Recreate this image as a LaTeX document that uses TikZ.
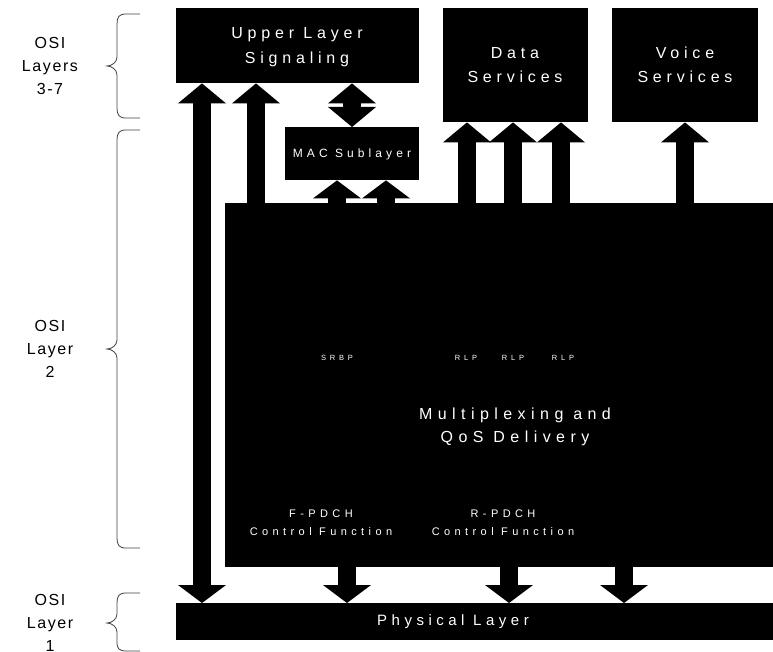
\documentclass[tikz,border=0pt]{standalone}
\usepackage{fontspec}
\setmainfont{Liberation Sans}
\newfontfamily\ftitle{Liberation Sans}[LetterSpace=30]
\newfontfamily\fmid{Liberation Sans}[LetterSpace=34]
\newfontfamily\fsmall{Liberation Sans}[LetterSpace=40]
\newfontfamily\ftiny{Liberation Sans}[LetterSpace=50]
\newfontfamily\fosi{Liberation Sans}[LetterSpace=10]
\usetikzlibrary{arrows.meta}
\begin{document}
\begin{tikzpicture}[x=1pt,y=-1pt,
  blk/.style={fill=black, draw=none, inner sep=0pt, anchor=north west},
  wtxt/.style={text=white, align=center, inner sep=0pt},
  titletxt/.style={wtxt, font=\ftitle\fontsize{16}{25}\selectfont},
  osilbl/.style={align=center, inner sep=0pt, font=\fosi\fontsize{16}{23}\selectfont},
  bar/.style={line width=18pt, draw=black},
  upa/.style={bar, -{Triangle[width=48pt,length=20pt,line width=0pt]}},
  upb/.style={bar, -{Triangle[width=48pt,length=18pt,line width=0pt]}},
  dbl/.style={bar, {Triangle[width=48pt,length=20pt,line width=0pt]}-{Triangle[width=48pt,length=20pt,line width=0pt]}},
  bracepath/.style={draw=black!75, line width=0.8pt},
]
\useasboundingbox (0,0) rectangle (773,652);

% boxes
\node[blk, minimum width=243pt, minimum height=75pt] (upper) at (176,8) {};
\node[blk, minimum width=145pt, minimum height=114pt] (data) at (443,8) {};
\node[blk, minimum width=146pt, minimum height=114pt] (voice) at (612,8) {};
\node[blk, minimum width=134pt, minimum height=53pt] (mac) at (285,127) {};
\node[blk, minimum width=548pt, minimum height=364pt] (big) at (225,203) {};
\node[blk, minimum width=597pt, minimum height=37pt] (phys) at (176,603) {};

% box texts
\node[titletxt] (uppertxt) at (297,47) {Upper Layer\\Signaling};
\node[titletxt, font=\ftitle\fontsize{16}{24}\selectfont] (datatxt) at (515,65) {Data\\Services};
\node[titletxt, font=\ftitle\fontsize{16}{24}\selectfont] (voicetxt) at (685,65) {Voice\\Services};
\node[wtxt, font=\fmid\fontsize{12}{14}\selectfont] (mactxt) at (352,154) {MAC Sublayer};
\node[wtxt, font=\ftiny\fontsize{7.5}{9}\selectfont] (srbp) at (337,358) {SRBP};
\node[wtxt, font=\ftiny\fontsize{7.5}{9}\selectfont] (rlpa) at (466,358) {RLP};
\node[wtxt, font=\ftiny\fontsize{7.5}{9}\selectfont] (rlpb) at (513,358) {RLP};
\node[wtxt, font=\ftiny\fontsize{7.5}{9}\selectfont] (rlpc) at (563,358) {RLP};
\node[wtxt, font=\fmid\fontsize{16}{23}\selectfont] (mux) at (515,427) {Multiplexing and\\QoS Delivery};
\node[wtxt, font=\fsmall\fontsize{11}{18}\selectfont] (fpdch) at (321,523) {F-PDCH\\Control Function};
\node[wtxt, font=\fsmall\fontsize{11}{18}\selectfont] (rpdch) at (503,523) {R-PDCH\\Control Function};
\node[wtxt, font=\ftitle\fontsize{15}{18}\selectfont] (physlbl) at (453,622) {Physical Layer};

% arrow columns
\coordinate (cA) at (202,0);
\coordinate (cB) at (256,0);
\coordinate (cC) at (352,0);
\coordinate (cD) at (337,0);
\coordinate (cE) at (386,0);
\coordinate (cF) at (467,0);
\coordinate (cG) at (513,0);
\coordinate (cH) at (561,0);
\coordinate (cI) at (685,0);
\coordinate (cJ) at (347,0);
\coordinate (cK) at (509,0);
\coordinate (cL) at (624,0);

% arrows
\draw[bar, {Triangle[width=48pt,length=18pt,line width=0pt]}-{Triangle[width=48pt,length=20pt,line width=0pt]}] (phys.north -| cA) -- (upper.south -| cA);
\draw[upa] (big.north -| cB) -- (upper.south -| cB);
\draw[dbl] (upper.south -| cC) -- (mac.north -| cC);
\draw[upb] (big.north -| cD) -- (mac.south -| cD);
\draw[upb] (big.north -| cE) -- (mac.south -| cE);
\draw[upa] (big.north -| cF) -- (data.south -| cF);
\draw[upa] (big.north -| cG) -- (data.south -| cG);
\draw[upa] (big.north -| cH) -- (data.south -| cH);
\draw[upa] (big.north -| cI) -- (voice.south -| cI);
\draw[upb] (big.south -| cJ) -- (phys.north -| cJ);
\draw[upb] (big.south -| cK) -- (phys.north -| cK);
\draw[upb] (big.south -| cL) -- (phys.north -| cL);

% braces
\draw[bracepath] (140,14) -- (126,14) .. controls (119,14) and (117,17) .. (117,24) -- (117,57) .. controls (117,62) and (112,66) .. (107,66) .. controls (112,66) and (117,70) .. (117,75) -- (117,108) .. controls (117,115) and (119,118) .. (126,118) -- (140,118);
\draw[bracepath] (140,130) -- (126,130) .. controls (119,130) and (117,133) .. (117,140) -- (117,340) .. controls (117,345) and (112,349) .. (107,349) .. controls (112,349) and (117,353) .. (117,358) -- (117,538) .. controls (117,545) and (119,548) .. (126,548) -- (140,548);
\draw[bracepath] (140,593) -- (126,593) .. controls (119,593) and (117,596) .. (117,603) -- (117,614) .. controls (117,619) and (112,623) .. (107,623) .. controls (112,623) and (117,627) .. (117,632) -- (117,643) .. controls (117,648) and (119,651) .. (126,651) -- (140,651);

% OSI labels
\node[osilbl] (l37) at (50,66) {OSI\\Layers\\3-7};
\node[osilbl] (l2) at (50,349) {OSI\\Layer\\2};
\node[osilbl] (l1) at (50,623) {OSI\\Layer\\1};
\end{tikzpicture}
\end{document}
